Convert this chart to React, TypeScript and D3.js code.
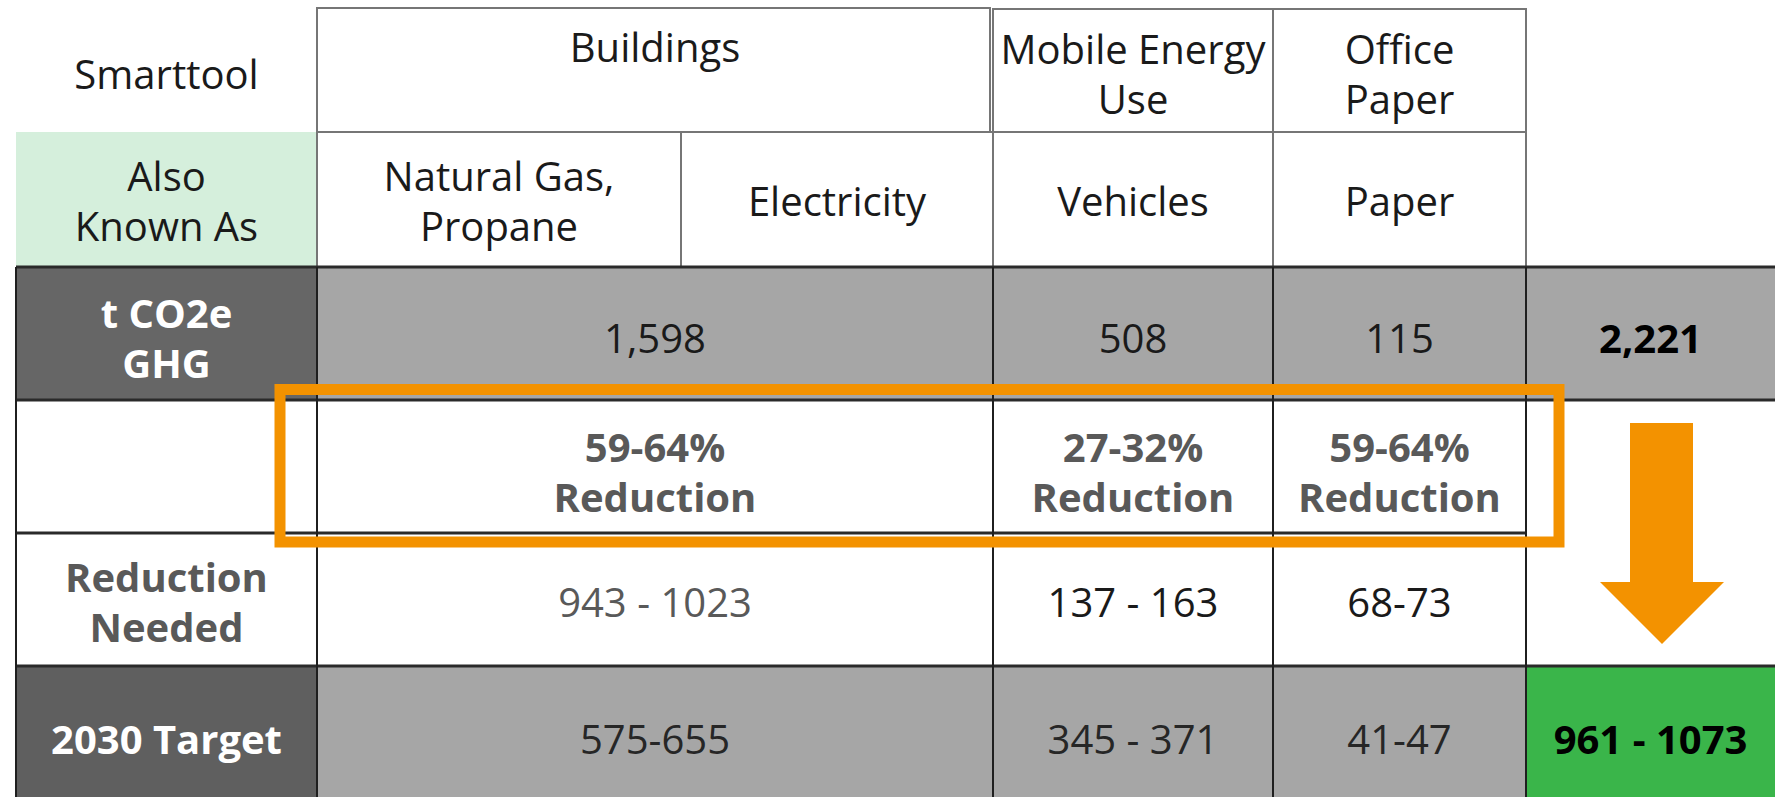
import { useEffect, useRef } from 'react';
import * as d3 from 'd3';

const WIDTH = 1775;
const HEIGHT = 797;

// table contents
const rowLabels = ['Smarttool', 'Also\nKnown As', 't CO2e\nGHG', '', 'Reduction\nNeeded', '2030 Target'];
const groupNames = ['Buildings', 'Mobile Energy\nUse', 'Office\nPaper'];
const aliasNames = ['Natural Gas,\nPropane', 'Electricity', 'Vehicles', 'Paper'];
const ghgValues = ['1,598', '508', '115'];
const ghgTotal = '2,221';
const reductionPct = ['59-64%', '27-32%', '59-64%'];
const reductionNeeded = ['943 - 1023', '137 - 163', '68-73'];
const target2030 = ['575-655', '345 - 371', '41-47'];
const targetTotal = '961 - 1073';

// layout: column and row edges
const colEdges = [16, 317, 681, 993, 1273, 1526, 1775];
const rowEdges = [8, 132, 267, 400, 533, 666, 797];
const rowNudge = [5, 2, 5, 6, 3, 8];
// each group spans these alias columns
const groupSpan: [number, number][] = [[1, 3], [3, 4], [4, 5]];

const FONT = '"Open Sans", "Noto Sans", sans-serif';
const FS = 40;
const LH = 50;

type TextOpts = { bold?: boolean; fill?: string };

const App = () => {
	const ref = useRef<SVGSVGElement>(null);

	useEffect(() => {
		if (!ref.current) return;
		const svg = d3.select(ref.current);
		svg.selectAll('*').remove();

		const rowMid = (r: number) => (rowEdges[r] + rowEdges[r + 1]) / 2 + rowNudge[r];
		const colMid = (a: number, b: number) => (colEdges[a] + colEdges[b]) / 2;

		const drawText = (txt: string, cx: number, cy: number, o: TextOpts = {}) => {
			const lines = txt.split('\n');
			const t = svg
				.append('text')
				.attr('text-anchor', 'middle')
				.style('font-family', FONT)
				.style('font-size', `${FS}px`)
				.style('font-weight', o.bold ? 700 : 400)
				.style('fill', o.fill ?? '#1a1a1a');
			lines.forEach((line, i) => {
				t.append('tspan')
					.attr('x', cx)
					.attr('y', cy + (i - (lines.length - 1) / 2) * LH + FS * 0.36)
					.text(line);
			});
		};

		const rect = (x0: number, y0: number, x1: number, y1: number, fill: string) =>
			svg.append('rect').attr('x', x0).attr('y', y0).attr('width', x1 - x0).attr('height', y1 - y0).attr('fill', fill);

		// backgrounds
		rect(colEdges[0], rowEdges[1], colEdges[1], rowEdges[2], '#d5efdc');
		rect(colEdges[0], rowEdges[2], colEdges[1], rowEdges[3], '#666666');
		rect(colEdges[1], rowEdges[2], colEdges[6], rowEdges[3], '#a6a6a6');
		rect(colEdges[0], rowEdges[5], colEdges[1], rowEdges[6], '#5f5f5f');
		rect(colEdges[1], rowEdges[5], colEdges[5], rowEdges[6], '#a6a6a6');
		rect(colEdges[5], rowEdges[5], colEdges[6], rowEdges[6], '#3ab54a');

		// header boxes
		const headStroke = '#767676';
		groupSpan.forEach(([a, b], i) => {
			const x0 = colEdges[a];
			const x1 = i === 0 ? colEdges[b] - 3 : colEdges[b];
			svg.append('rect')
				.attr('x', x0).attr('y', rowEdges[0] + (i === 0 ? 0 : 1))
				.attr('width', x1 - x0).attr('height', rowEdges[1] - rowEdges[0] - (i === 0 ? 0 : 1))
				.attr('fill', 'none').attr('stroke', headStroke).attr('stroke-width', 2);
		});
		aliasNames.forEach((_, i) => {
			svg.append('rect')
				.attr('x', colEdges[i + 1]).attr('y', rowEdges[1])
				.attr('width', colEdges[i + 2] - colEdges[i + 1]).attr('height', rowEdges[2] - rowEdges[1])
				.attr('fill', 'none').attr('stroke', headStroke).attr('stroke-width', 2);
		});

		// body grid
		const line = (x1: number, y1: number, x2: number, y2: number, w = 2, c = '#1f1f1f') =>
			svg.append('line').attr('x1', x1).attr('y1', y1).attr('x2', x2).attr('y2', y2)
				.attr('stroke', c).attr('stroke-width', w);
		line(colEdges[0], rowEdges[2], colEdges[6], rowEdges[2], 3, '#2a2a2a');
		line(colEdges[0], rowEdges[3], colEdges[6], rowEdges[3], 3, '#2a2a2a');
		line(colEdges[0], rowEdges[4], colEdges[5], rowEdges[4], 3, '#2a2a2a');
		line(colEdges[0], rowEdges[5], colEdges[6], rowEdges[5], 3, '#2a2a2a');
		[0, 1, 3, 4, 5].forEach((c) => line(colEdges[c], rowEdges[2], colEdges[c], rowEdges[6]));

		// row labels
		const labelColors = ['#1a1a1a', '#1a1a1a', '#ffffff', '#1a1a1a', '#595959', '#ffffff'];
		rowLabels.forEach((lab, r) => {
			if (!lab) return;
			drawText(lab, colMid(0, 1), rowMid(r), { bold: r >= 2, fill: labelColors[r] });
		});

		// group headers
		groupSpan.forEach(([a, b], i) => {
			const cy = i === 0 ? 48 : rowMid(0);
			drawText(groupNames[i], colMid(a, b), cy);
		});
		aliasNames.forEach((n, i) => drawText(n, colMid(i + 1, i + 2), rowMid(1)));

		// values
		groupSpan.forEach(([a, b], i) => {
			const cx = colMid(a, b);
			drawText(ghgValues[i], cx, rowMid(2));
			drawText(`${reductionPct[i]}\nReduction`, cx, rowMid(3), { bold: true, fill: '#595959' });
			drawText(reductionNeeded[i], cx, rowMid(4), { fill: i === 0 ? '#595959' : '#1a1a1a' });
			drawText(target2030[i], cx, rowMid(5), { fill: '#262626' });
		});
		drawText(ghgTotal, colMid(5, 6), rowMid(2), { bold: true, fill: '#000' });
		drawText(targetTotal, colMid(5, 6), rowMid(5), { bold: true, fill: '#000' });

		// orange highlight box
		const orange = '#f39200';
		svg.append('rect')
			.attr('x', 280).attr('y', 389.5)
			.attr('width', 1279).attr('height', 152.5)
			.attr('fill', 'none').attr('stroke', orange).attr('stroke-width', 11);

		// down arrow
		const arrow = d3.path();
		arrow.moveTo(1630, 423);
		arrow.lineTo(1693, 423);
		arrow.lineTo(1693, 582);
		arrow.lineTo(1724, 582);
		arrow.lineTo(1662, 644);
		arrow.lineTo(1600, 582);
		arrow.lineTo(1630, 582);
		arrow.closePath();
		svg.append('path').attr('d', arrow.toString()).attr('fill', orange);
	}, []);

	return (
		<svg
			ref={ref}
			width={WIDTH}
			height={HEIGHT}
			style={{ position: 'absolute', left: 0, top: 0, background: '#fff' }}
		></svg>
	);
};

export default App;
